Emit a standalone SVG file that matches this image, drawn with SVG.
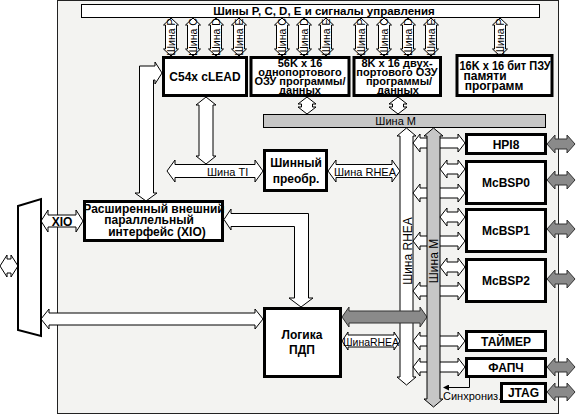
<svg xmlns="http://www.w3.org/2000/svg" width="576" height="416" viewBox="0 0 576 416">
<style>
text{font-family:"Liberation Sans","DejaVu Sans",sans-serif;fill:#000}
.b{font-weight:bold;font-size:12px;text-anchor:middle}
.m{font-weight:bold;font-size:11px;text-anchor:middle}
.l{font-size:11px}
.v{font-size:10.5px;text-anchor:middle}
.box{fill:#fff;stroke:#000;stroke-width:3}
.ar{fill:#fff;stroke:#000;stroke-width:1}
.gr{fill:#c6c6c6;stroke:#000;stroke-width:1}
.ga{fill:#8a8a8a;stroke:#333;stroke-width:1}
.ln{fill:none;stroke:#000;stroke-width:1}
</style>
<defs>
<path id="va" d="M0,0 L7.5,7 L5.5,7 L5.5,31 L7.5,31 L0,38 L-7.5,31 L-5.5,31 L-5.5,7 L-7.5,7 Z"/>
<path id="sa" d="M0,0 L9,7 L5.5,7 L5.5,10 L9,10 L0,17 L-9,10 L-5.5,10 L-5.5,7 L-9,7 Z"/>
<path id="rb" d="M0,0 L7,-9 L7,-5 L45,-5 L45,-9 L52,0 L45,9 L45,5 L7,5 L7,9 Z"/>
<path id="mb" d="M0,0 L7,-9 L7,-5 L18,-5 L18,-9 L25,0 L18,9 L18,5 L7,5 L7,9 Z"/>
<path id="gb" d="M0,0 L8,-9 L8,-5 L20,-5 L20,-9 L28,0 L20,9 L20,5 L8,5 L8,9 Z"/>
<marker id="ah" markerWidth="6" markerHeight="6" refX="5" refY="3" orient="auto" markerUnits="userSpaceOnUse">
<path d="M0,0 L6,3 L0,6 Z" fill="#000"/>
</marker>
</defs>
<rect x="57.5" y="0.5" width="501" height="413" fill="#f3f3f1" stroke="#222"/>

<g id="topbus">
<rect x="81.5" y="4.5" width="458" height="13" fill="#fff" stroke="#000"/>
<text x="324" y="15" class="b" style="font-size:11.5px">Шины P, C, D, E и сигналы управления</text>
</g>

<g id="connectors">
<g class="ar">
<use href="#va" x="171" y="18"/><use href="#va" x="193" y="18"/><use href="#va" x="216" y="18"/><use href="#va" x="239" y="18"/>
<use href="#va" x="282" y="18"/><use href="#va" x="304" y="18"/><use href="#va" x="326" y="18"/>
<use href="#va" x="361" y="18"/><use href="#va" x="384" y="18"/><use href="#va" x="408" y="18"/><use href="#va" x="431" y="18"/>
<use href="#va" x="500" y="18"/>
<use href="#sa" x="307" y="97"/><use href="#sa" x="398" y="97"/>
</g>
<g class="v">
<text transform="translate(174.8,37) rotate(-90)">Шина P</text>
<text transform="translate(196.8,37) rotate(-90)">Шина C</text>
<text transform="translate(219.8,37) rotate(-90)">Шина D</text>
<text transform="translate(242.8,37) rotate(-90)">Шина E</text>
<text transform="translate(285.8,37) rotate(-90)">Шина C</text>
<text transform="translate(307.8,37) rotate(-90)">Шина D</text>
<text transform="translate(329.8,37) rotate(-90)">Шина E</text>
<text transform="translate(364.8,37) rotate(-90)">Шина P</text>
<text transform="translate(387.8,37) rotate(-90)">Шина C</text>
<text transform="translate(411.8,37) rotate(-90)">Шина D</text>
<text transform="translate(434.8,37) rotate(-90)">Шина E</text>
<text transform="translate(503.8,37) rotate(-90)">Шина P</text>
</g>
<rect id="busM" x="263.5" y="114.5" width="282" height="13" class="gr"/>
<text x="416" y="125" class="l" text-anchor="end">Шина M</text>
<path class="ar" d="M206,97 L216,105 L213,105 L213,156 L216,156 L206,164 L196,156 L199,156 L199,105 L196,105 Z"/>
<path class="ar" d="M167,171 L175,160 L175,164.5 L255,164.5 L255,160 L263,171 L255,182 L255,177.5 L175,177.5 L175,182 Z"/>
<text x="207" y="176" class="l">Шина TI</text>
<path class="ar" d="M328,171 L336,160 L336,164.5 L392,164.5 L392,160 L400,171 L392,182 L392,177.5 L336,177.5 L336,182 Z"/>
<text x="334" y="176" class="l">Шина RHEA</text>
<path class="ar" d="M162,73 L155,62 L155,66 L139.5,66 L139.5,193 L135,193 L146,201 L157,193 L153.5,193 L153.5,80 L155,80 L155,84 Z"/>
<path class="ar" d="M224,219.5 L231,209 L231,213.5 L308.5,213.5 L308.5,298 L313,298 L301,307 L289,298 L294.5,298 L294.5,226.5 L231,226.5 L231,230 Z"/>
<path class="ar" d="M41,221 L48,210 L48,215 L76,215 L76,210 L83,221 L76,232 L76,227 L48,227 L48,232 Z"/>
<text x="62" y="225.5" class="b">XIO</text>
<path class="ar" d="M41,319 L49,309 L49,313 L255,313 L255,309 L263,319 L255,329 L255,325 L49,325 L49,329 Z"/>
<path class="ar" d="M0,266 L7,255 L7,259 L11,259 L11,255 L18,266 L11,277 L11,273 L7,273 L7,277 Z"/>
<path class="ar" d="M342,341 L348,332 L348,335 L394,335 L394,332 L400,341 L394,350 L394,347 L348,347 L348,350 Z"/>
<text x="343" y="346" class="l" textLength="56" lengthAdjust="spacingAndGlyphs">ШинаRHEA</text>
<path id="busRHEA" class="ar" d="M406.5,128 L416,136 L413,136 L413,377 L416,377 L406.5,385 L397,377 L400,377 L400,136 L397,136 Z"/>
<text transform="translate(411.5,251) rotate(-90)" class="l" text-anchor="middle" style="font-size:12px">Шина RHEA</text>
<g class="ar">
<use href="#rb" x="413" y="143"/><use href="#rb" x="413" y="193"/><use href="#rb" x="413" y="241"/>
<use href="#rb" x="413" y="291"/><use href="#rb" x="413" y="341"/><use href="#rb" x="413" y="367"/>
</g>
<path class="ga" d="M342,317 L349,307 L349,311 L420,311 L420,307 L427,317 L420,327 L420,323 L349,323 L349,327 Z"/>
<path id="busMv" class="gr" d="M433.5,128 L443,136 L440,136 L440,399 L443,399 L433.5,407 L424,399 L427,399 L427,136 L424,136 Z"/>
<text transform="translate(438,261) rotate(-90)" class="l" text-anchor="middle" style="font-size:12px">Шина M</text>
<g class="ar">
<use href="#mb" x="440" y="169"/><use href="#mb" x="440" y="217"/><use href="#mb" x="440" y="267"/>
</g>
<g class="ga">
<use href="#gb" x="547" y="144"/><use href="#gb" x="547" y="180"/><use href="#gb" x="547" y="229"/>
<use href="#gb" x="547" y="279"/><use href="#gb" x="547" y="367"/><use href="#gb" x="547" y="392"/>
</g>
<polyline class="ln" points="469.5,378 469.5,387.5 444,387.5" marker-end="url(#ah)"/>
<text x="443" y="400" class="l">Синхрониз.</text>
</g>

<g id="pins">
<polygon points="18,206 41,199 41,336 18,330" fill="#fff" stroke="#000" stroke-width="2"/>
</g>

<g id="c54x"><rect x="163.5" y="57.5" width="83" height="38" class="box"/>
<text x="205" y="81" class="b">C54x cLEAD</text></g>

<g id="ram56k"><rect x="251" y="57.5" width="98" height="38" class="box"/>
<text class="m"><tspan x="300" y="66.5">56K x 16</tspan><tspan x="300" y="75.5">однопортового</tspan><tspan x="300" y="84.5">ОЗУ программы/</tspan><tspan x="300" y="93.5">данных</tspan></text></g>

<g id="ram8k"><rect x="354" y="57.5" width="86.5" height="38" class="box"/>
<text class="m"><tspan x="397" y="66.5">8K x 16  двух-</tspan><tspan x="397" y="75.5">портового ОЗУ</tspan><tspan x="399" y="84.5">программы/</tspan><tspan x="398" y="93.5">данных</tspan></text></g>

<g id="rom16k"><rect x="457" y="55.5" width="95" height="40" class="box"/>
<text class="b" x="505" y="70" textLength="91" lengthAdjust="spacingAndGlyphs">16K x 16 бит ПЗУ</text>
<text class="b" x="485" y="80">памяти</text>
<text class="b" x="494" y="90">программ</text></g>

<g id="busconv"><rect x="264.5" y="150.5" width="62" height="40" class="box"/>
<text class="b" x="296" y="167">Шинный</text><text class="b" x="296" y="183">преобр.</text></g>

<g id="xio"><rect x="84.5" y="201.5" width="138" height="39" class="box"/>
<text class="b" x="154" y="212.5">Расширенный внешний</text>
<text class="b" x="149" y="224">параллельный</text>
<text class="b" x="157" y="235.5">интерфейс (XIO)</text></g>

<g id="dma"><rect x="264.5" y="308.5" width="76" height="68" class="box"/>
<text class="b" x="302" y="339">Логика</text><text class="b" x="302" y="354">ПДП</text></g>

<g id="hpi8"><rect x="466.5" y="134.5" width="79" height="19" class="box"/><text class="b" x="506" y="148.5">HPI8</text></g>
<g id="mcbsp0"><rect x="466.5" y="161.5" width="79" height="42" class="box"/><text class="b" x="506" y="187">McBSP0</text></g>
<g id="mcbsp1"><rect x="466.5" y="209.5" width="79" height="42" class="box"/><text class="b" x="506" y="235">McBSP1</text></g>
<g id="mcbsp2"><rect x="466.5" y="259.5" width="79" height="42" class="box"/><text class="b" x="506" y="285">McBSP2</text></g>
<g id="timer"><rect x="466.5" y="331.5" width="79" height="19" class="box"/><text class="b" x="506" y="345.5">ТАЙМЕР</text></g>
<g id="pll"><rect x="466.5" y="358.5" width="79" height="18" class="box"/><text class="b" x="506" y="372">ФАПЧ</text></g>
<g id="jtag"><rect x="501.5" y="383.5" width="44" height="18" class="box"/><text class="b" x="523.5" y="397">JTAG</text></g>
</svg>
